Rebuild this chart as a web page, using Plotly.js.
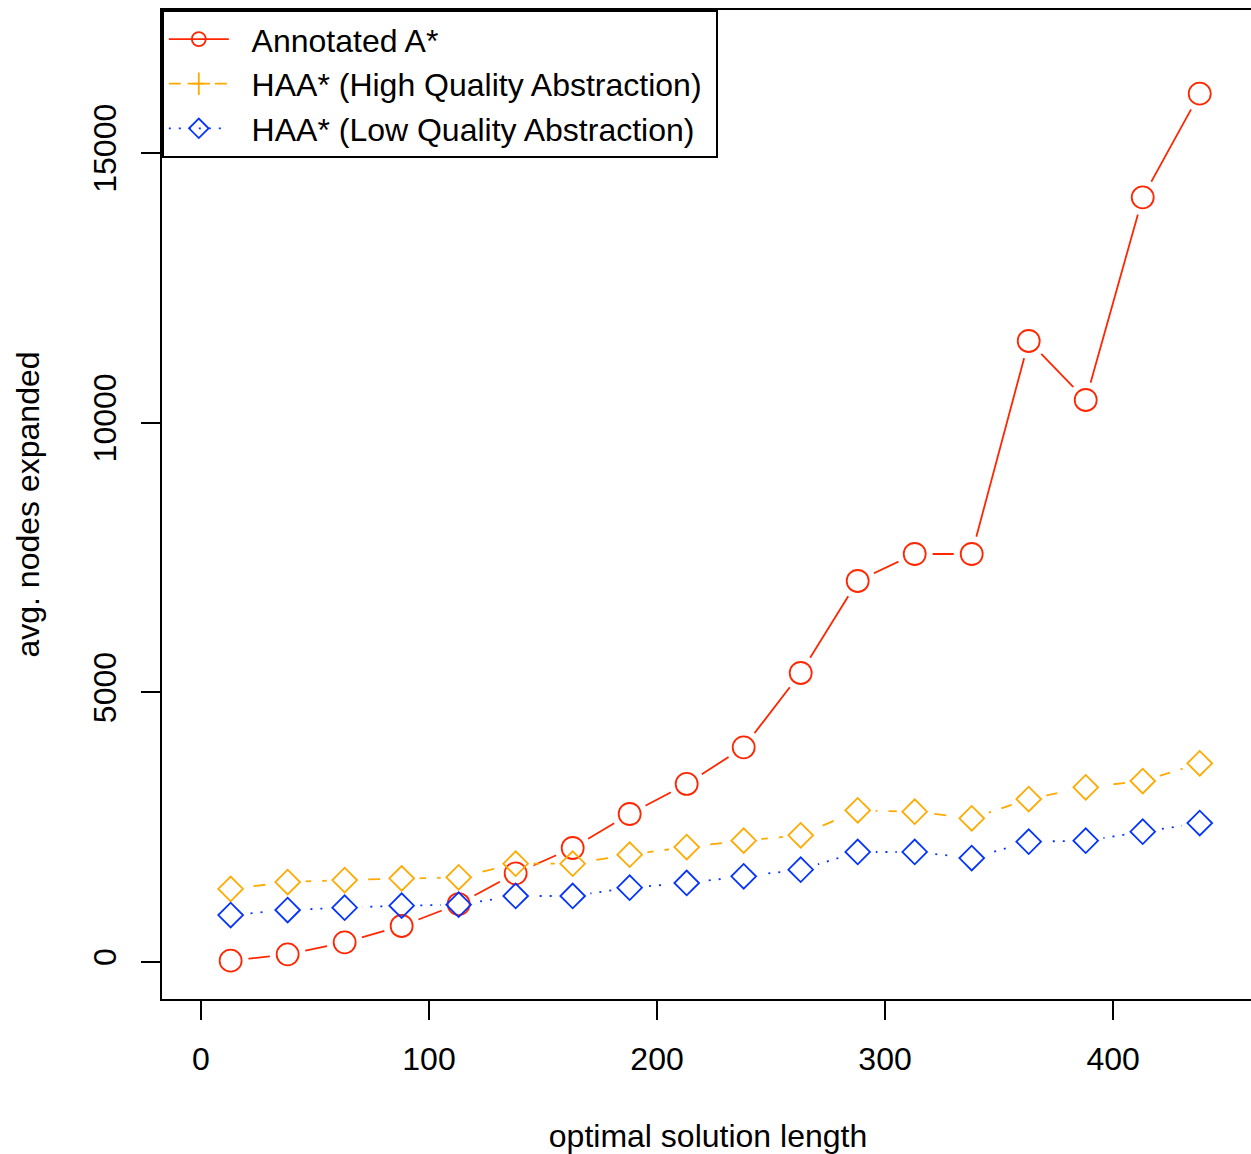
<!DOCTYPE html>
<html>
<head>
<meta charset="utf-8">
<script src="https://cdn.plot.ly/plotly-3.0.1.min.js"></script>
<style>
html,body{margin:0;padding:0;background:#fff;overflow:hidden;}
#chart{width:1260px;height:1154px;}
</style>
</head>
<body>
<div id="chart"></div>
<script>
// optimal solution length (x)
const solutionLength = [13, 38, 63, 88, 113, 138, 163, 188, 213, 238, 263, 288, 313, 338, 363, 388, 413, 438];
// avg. nodes expanded
const annotatedA = [24, 143, 365, 668, 1075, 1645, 2114, 2744, 3301, 3981, 5359, 7065, 7565, 7565, 11515, 10421, 14179, 16101];
const haaHigh = [1354, 1483, 1520, 1551, 1570, 1823, 1823, 1990, 2132, 2250, 2349, 2813, 2787, 2664, 3022, 3239, 3356, 3684];
const haaLow = [871, 964, 1007, 1045, 1063, 1224, 1224, 1378, 1465, 1589, 1712, 2040, 2040, 1928, 2231, 2249, 2416, 2577];

const seriesNames = ["Annotated A*", "HAA* (High Quality Abstraction)", "HAA* (Low Quality Abstraction)"];
const xTickVals = [0, 100, 200, 300, 400];
const yTickVals = [0, 5000, 10000, 15000];

const RED = "#FF2600", ORANGE = "#FFAA00", BLUE = "#0433FF";
const FONT = "Liberation Sans, Arial, Helvetica, sans-serif";
const FS = 32;

const series = [
  {y: annotatedA, color: RED, dash: "solid", symbol: "circle-open", size: 22, legSymbol: "circle-open", legSize: 14},
  {y: haaHigh, color: ORANGE, dash: "12px,11px", symbol: "diamond-open", size: 19, legSymbol: "cross-thin-open", legSize: 16},
  {y: haaLow, color: BLUE, dash: "2px,8px", symbol: "diamond-open", size: 19, legSymbol: "diamond-open", legSize: 15}
];

const traces = [];
// lines with white masks (emulating R type="b" gaps)
series.forEach((s) => {
  traces.push({x: solutionLength, y: s.y, mode: "lines", showlegend: false, hoverinfo: "skip",
    line: {color: s.color, width: 1.8, dash: s.dash}});
  traces.push({x: solutionLength, y: s.y, mode: "markers", showlegend: false, hoverinfo: "skip",
    marker: {symbol: "circle", size: 36, color: "#ffffff", line: {width: 0}}});
});
// open markers
series.forEach((s) => {
  traces.push({x: solutionLength, y: s.y, mode: "markers", showlegend: false,
    marker: {symbol: s.symbol, size: s.size, color: s.color, line: {color: s.color, width: 1.8}}});
});
// legend entries
series.forEach((s, i) => {
  traces.push({x: [null], y: [null], mode: "lines+markers", name: "\u00A0\u00A0" + seriesNames[i] + "\u00A0", showlegend: true,
    line: {color: s.color, width: 1.8, dash: s.dash},
    marker: {symbol: s.legSymbol, size: s.legSize, color: s.color, line: {color: s.color, width: 1.8}}});
});

const layout = {
  width: 1260, height: 1154,
  margin: {l: 162, r: 6, t: 10, b: 155},
  paper_bgcolor: "#ffffff", plot_bgcolor: "#ffffff",
  font: {family: FONT, size: FS, color: "#000"},
  showlegend: true,
  legend: {x: 0, y: 1, xanchor: "left", yanchor: "top", bgcolor: "#ffffff",
    bordercolor: "#000", borderwidth: 1.8, font: {family: FONT, size: FS, color: "#000"},
    itemwidth: 60, tracegroupgap: 0},
  xaxis: {range: [-17.1, 461.8], tickvals: xTickVals, ticktext: xTickVals.map(String),
    showgrid: false, zeroline: false, showline: true, linecolor: "#000", linewidth: 1.8, mirror: true,
    ticks: "outside", ticklen: 19, tickwidth: 1.8, tickcolor: "#000",
    tickfont: {family: FONT, size: FS, color: "#000"}, ticklabelstandoff: 12,
    title: {text: "optimal solution length", font: {family: FONT, size: FS, color: "#000"}, standoff: 48},
    automargin: false},
  yaxis: {range: [-686, 17652], tickvals: yTickVals, ticktext: yTickVals.map(String),
    showgrid: false, zeroline: false, showline: true, linecolor: "#000", linewidth: 1.8, mirror: true,
    ticks: "outside", ticklen: 19, tickwidth: 1.8, tickcolor: "#000", tickangle: -90,
    tickfont: {family: FONT, size: FS, color: "#000"}, ticklabelstandoff: 12,
    title: {text: "avg. nodes expanded", font: {family: FONT, size: FS, color: "#000"}, standoff: 38},
    automargin: false}
};

Plotly.newPlot("chart", traces, layout, {displayModeBar: false, staticPlot: true});
</script>
</body>
</html>
